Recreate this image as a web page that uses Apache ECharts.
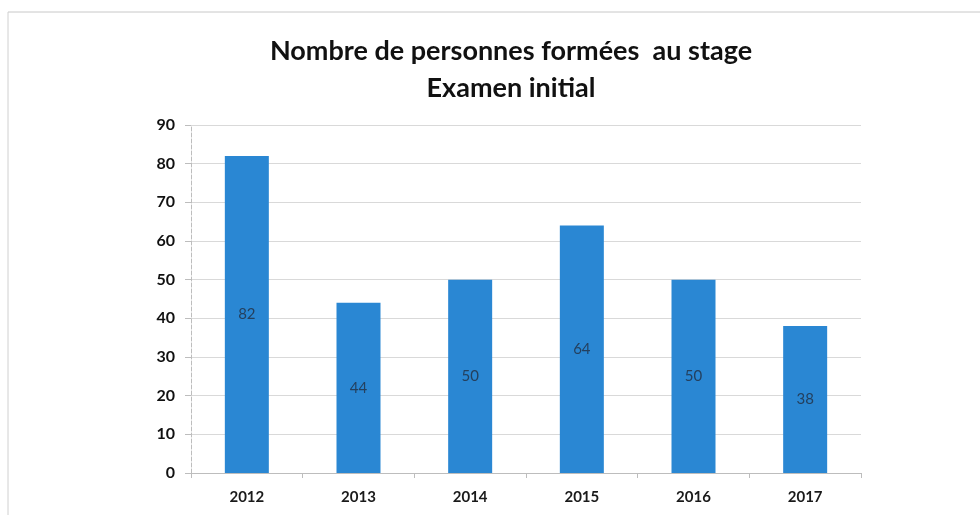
<!DOCTYPE html>
<html><head><meta charset="utf-8">
<script src="https://cdn.jsdelivr.net/npm/echarts@6/dist/echarts.min.js"></script>
<style>html,body{margin:0;padding:0;background:#fff}#c{width:980px;height:515px}</style>
</head><body><div id="c"></div>
<script>
const titleLines = ["Nombre de personnes formées  au stage", "Examen initial"];
const categories = ["2012", "2013", "2014", "2015", "2016", "2017"];
const values = [82, 44, 50, 64, 50, 38];
const yTicks = [0, 10, 20, 30, 40, 50, 60, 70, 80, 90];

const chart = echarts.init(document.getElementById('c'));
chart.setOption({
  backgroundColor: '#ffffff',
  animation: false,
  title: {
    text: titleLines.join('\n'),
    left: 506, top: 28, textAlign: 'center',
    textStyle: { fontFamily: 'Lato', fontWeight: 'bold', fontSize: 27, lineHeight: 37, color: '#111' }
  },
  graphic: [
    { type: 'line', shape: { x1: 8, y1: 12, x2: 980, y2: 12 }, style: { stroke: '#c8c8c8', lineWidth: 1 } },
    { type: 'line', shape: { x1: 8, y1: 12, x2: 8, y2: 515 }, style: { stroke: '#d0d0d0', lineWidth: 1 } }
  ],
  grid: { left: 191, right: 119, top: 125, bottom: 42, containLabel: false },
  xAxis: {
    type: 'category', data: categories,
    axisLine: { show: true, lineStyle: { color: '#bdbdbd' } },
    axisTick: { show: true, length: 5, lineStyle: { color: '#bdbdbd' } },
    axisLabel: { color: '#1a1a1a', fontFamily: 'Lato', fontWeight: 'bold', fontSize: 15, margin: 17 }
  },
  yAxis: {
    type: 'value', min: yTicks[0], max: yTicks[yTicks.length - 1], interval: 10,
    axisLine: { show: true, lineStyle: { color: '#bdbdbd', type: 'dashed' } },
    axisTick: { show: true, length: 6, lineStyle: { color: '#bdbdbd' } },
    axisLabel: { color: '#111', fontFamily: 'Lato', fontWeight: 'bold', fontSize: 16, margin: 16 },
    splitLine: { show: true, lineStyle: { color: '#d9d9d9', width: 1 } }
  },
  series: [{
    type: 'bar', data: values, barWidth: 44,
    itemStyle: { color: '#2A87D3' },
    label: { show: true, position: 'inside', color: '#24405e', fontFamily: 'Lato', fontSize: 15 }
  }]
});
</script></body></html>
